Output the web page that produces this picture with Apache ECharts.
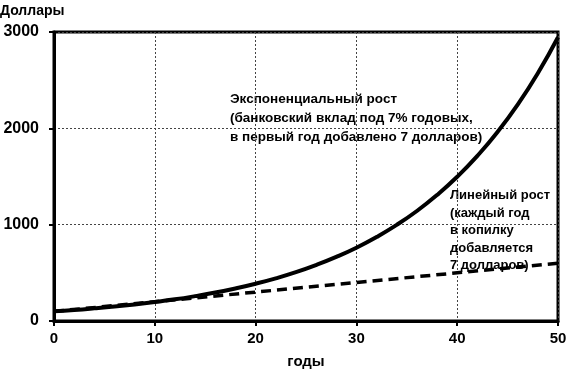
<!DOCTYPE html>
<html><head><meta charset="utf-8">
<script src="https://cdn.jsdelivr.net/npm/echarts@6/dist/echarts.min.js"></script>
<style>html,body{margin:0;padding:0;background:#fff}#c{width:570px;height:372px}</style>
</head><body><div id="c"></div>
<script>
const years = [0,2,4,6,8,10,12,14,16,18,20,22,24,26,28,30,32,34,36,38,40,42,44,46,48,50];
const exponential = [100,114,131,150,172,197,225,258,295,338,387,443,507,581,665,761,872,998,1142,1308,1497,1714,1962,2246,2572,2946];
const linYears = [0,10,20,30,40,50];
const linear = [100,200,300,400,500,600];
const xTicks = [0,10,20,30,40,50];
const yTicks = [0,1000,2000,3000];
const yTitle = 'Доллары';
const xTitle = 'годы';
const expNote = ['Экспоненциальный рост','(банковский вклад под 7% годовых,','в первый год добавлено 7 долларов)'];
const linNote = ['Линейный рост','(каждый год','в копилку','добавляется','7 долларов)'];

const F = '"Liberation Sans", Arial, sans-serif';
const chart = echarts.init(document.getElementById('c'));
chart.setOption({
  animation:false,
  backgroundColor:'#fff',
  grid:{left:54,right:12,top:32,bottom:51,outerBoundsMode:'none',containLabel:false,show:true,borderColor:'#000',borderWidth:3,backgroundColor:'transparent'},
  xAxis:{type:'value',min:xTicks[0],max:xTicks[xTicks.length-1],interval:10,
    name:xTitle,nameLocation:'middle',nameGap:33,
    nameTextStyle:{fontFamily:F,fontWeight:'bold',fontSize:15,color:'#000'},
    axisLine:{show:true,lineStyle:{color:'#000',width:3}},
    axisTick:{show:true,length:5,lineStyle:{color:'#000',width:2}},
    axisLabel:{fontFamily:F,fontWeight:'bold',fontSize:15,color:'#000',margin:10,formatter:v=>String(v)},
    splitLine:{show:true,lineStyle:{color:'#444',width:1,type:[2,2]}}
  },
  yAxis:{type:'value',min:yTicks[0],max:yTicks[yTicks.length-1],interval:1000,
    axisLine:{show:true,lineStyle:{color:'#000',width:3}},
    axisTick:{show:true,length:5,lineStyle:{color:'#000',width:2}},
    axisLabel:{fontFamily:F,fontWeight:'bold',fontSize:16,color:'#000',margin:15,formatter:v=>String(v)},
    splitLine:{show:true,lineStyle:{color:'#444',width:1,type:[2,2]}}
  },
  series:[
    {type:'line',data:linYears.map((x,i)=>[x,linear[i]]),showSymbol:false,
     lineStyle:{color:'#000',width:3.5,type:[10,6]},z:2},
    {type:'line',smooth:true,data:years.map((x,i)=>[x,exponential[i]]),showSymbol:false,
     lineStyle:{color:'#000',width:4},z:3}
  ],
  graphic:[
    {type:'text',left:0,top:4,style:{text:yTitle,font:'bold 14px '+F,fill:'#000'}},
    {type:'text',left:230,top:90,style:{text:expNote.join('\n'),font:'bold 13.5px '+F,fill:'#000',lineHeight:19}},
    {type:'text',left:450,top:187,style:{text:linNote.join('\n'),font:'bold 13px '+F,fill:'#000',lineHeight:17.5}}
  ]
});
</script></body></html>
